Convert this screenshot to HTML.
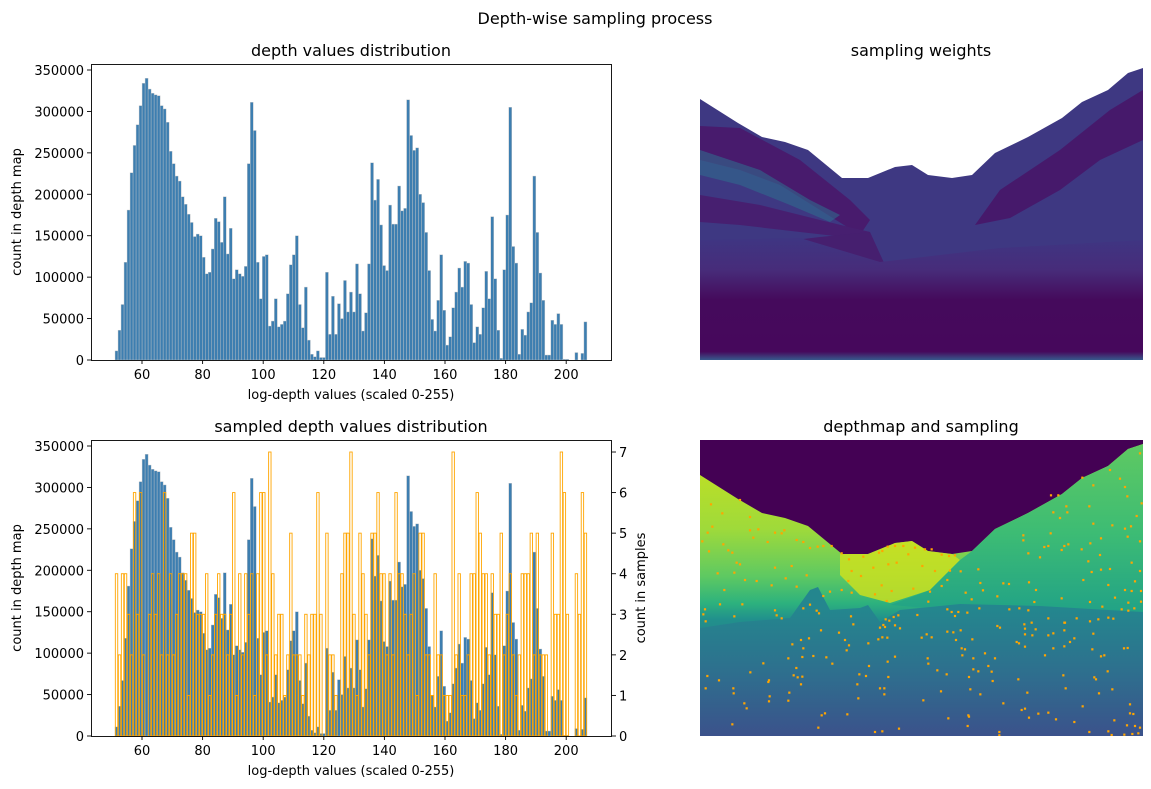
<!DOCTYPE html>
<html><head><meta charset="utf-8">
<style>
body{margin:0;background:#fff;}
svg{display:block;font-family:"DejaVu Sans","Liberation Sans",sans-serif;}
</style></head>
<body>
<svg id="fig" width="1151" height="789" viewBox="0 0 1151 789" xmlns="http://www.w3.org/2000/svg">
<defs>
<linearGradient id="gTerrain" gradientUnits="userSpaceOnUse" x1="0" y1="470" x2="0" y2="736">
<stop offset="0" stop-color="#bddf26"/><stop offset="0.22" stop-color="#9fda3a"/><stop offset="0.4" stop-color="#5ec962"/><stop offset="0.5" stop-color="#2db27d"/><stop offset="0.56" stop-color="#21918c"/><stop offset="0.75" stop-color="#2c728e"/><stop offset="1" stop-color="#3b528b"/>
</linearGradient>
<linearGradient id="gRight" gradientUnits="userSpaceOnUse" x1="0" y1="445" x2="0" y2="620">
<stop offset="0" stop-color="#5ec962"/><stop offset="0.5" stop-color="#3dbc74"/><stop offset="1" stop-color="#1fa088"/>
</linearGradient>
<linearGradient id="gLow" gradientUnits="userSpaceOnUse" x1="0" y1="610" x2="0" y2="736">
<stop offset="0" stop-color="#24868e"/><stop offset="0.5" stop-color="#2e6f8e"/><stop offset="1" stop-color="#3b528b"/>
</linearGradient>
<linearGradient id="gGround" gradientUnits="userSpaceOnUse" x1="0" y1="240" x2="0" y2="360">
<stop offset="0" stop-color="#3f3582"/><stop offset="0.25" stop-color="#472c7a"/><stop offset="0.5" stop-color="#450a5c"/><stop offset="0.93" stop-color="#46085c"/><stop offset="1" stop-color="#38598c"/>
</linearGradient>
<clipPath id="clipTop"><rect x="700" y="64" width="443" height="296"/></clipPath>
<clipPath id="clipBot"><rect x="700" y="440" width="443" height="296"/></clipPath>
</defs>
<text x="595" y="24" font-size="16" text-anchor="middle">Depth-wise sampling process</text>
<g id="topHist"></g>
<g id="botHist"></g>

<g>
<text x="921" y="56" font-size="16" text-anchor="middle">sampling weights</text>
<g clip-path="url(#clipTop)">
<polygon id="wTerrain" fill="#3e3882"/>
<polygon fill="#481b6d" points="700,126 740,128 800,160 850,200 870,220 860,235 820,210 780,185 740,170 700,160"/>
<polygon fill="#306b8e" opacity="0.6" points="700,150 760,170 810,200 840,215 830,222 790,205 740,185 700,175"/>
<polygon fill="#471f70" points="700,195 760,205 820,220 870,232 870,240 800,232 740,225 700,222"/>
<polygon fill="#46196b" points="1000,190 1060,150 1110,110 1143,90 1143,140 1100,160 1060,190 1010,218 975,225"/>
<polygon fill="#461f6f" points="705,280 720,260 770,243 820,237 870,232 885,265 880,265 800,270 730,290 720,300"/>
<polygon fill="url(#gGround)" points="700,240 800,238 880,262 1000,248 1143,240 1143,360 700,360"/>
</g>
</g>

<g>
<text x="921" y="432" font-size="16" text-anchor="middle">depthmap and sampling</text>
<g clip-path="url(#clipBot)">
<rect x="700" y="440" width="443" height="296" fill="#440154"/>
<polygon id="dTerrain" fill="url(#gTerrain)"/>
<polygon fill="#d2e21b" opacity="0.8" points="840,554 868,554 895,543 912,541 928,551 952,554 960,560 930,590 890,603 860,595 840,575"/>
<polygon fill="url(#gRight)" points="960,560 972,551 995,529 1028,513 1062,494 1082,478 1108,466 1128,449 1143,444 1143,612 1060,616 975,612 890,605 930,590"/>
<polygon fill="url(#gLow)" points="700,628 740,622 790,618 810,590 818,587 830,610 860,608 868,605 880,622 900,610 960,604 1040,606 1143,612 1143,736 700,736"/>
<g id="dots"></g>
</g>
</g>
</svg>
<script>
// ---- histogram data ----
const binLo = 51.1;
const binW = 0.992;
const depthCounts = [11,36,67,118,181,226,259,284,307,334,340,327,322,320,319,307,303,287,252,237,222,216,197,188,176,166,149,152,150,124,104,106,134,171,167,142,197,128,159,98,109,104,101,113,237,311,277,118,74,125,127,41,47,74,40,
43,47,80,115,127,150,67,39,88,24,7,4,11,3,3,106,31,77,31,68,50,96,58,82,58,116,80,35,57,116,238,193,218,163,114,108,187,164,164,210,180,183,314,271,253,256,200,190,154,108,49,35,72,127,60,18,28,
63,82,111,88,119,117,67,21,40,31,63,107,74,173,98,36,2,109,175,305,137,117,7,37,30,58,69,222,154,105,72,6,6,48,43,56,43,1,1,0,0,9,0,8,46];
const sampleCounts = [4,2,4,4,3,2,6,3,6,2,0,3,4,3,4,2,6,2,4,2,3,4,4,4,1,5,5,3,3,3,4,1,2,3,4,3,3,2,3,6,1,4,2,4,3,4,1,4,6,6,2,7,
4,2,3,3,1,2,5,2,2,
2,1,3,2,3,3,6,3,0,5,2,2,1,0,4,5,5,7,3,1,5,4,3,2,5,5,6,4,4,2,4,2,6,4,4,3,2,3,4,1,5,5,2,2,1,4,
2,2,1,1,1,7,2,4,1,1,2,4,4,6,5,4,4,2,4,3,3,5,2,3,4,2,1,2,4,4,4,5,2,5,2,2,2,0,5,3,3,7,6,3,0,0,4,3,6,5];
const xTicks = [60,80,100,120,140,160,180,200];
const yTicks = [0,50000,100000,150000,200000,250000,300000,350000];
const y2Ticks = [0,1,2,3,4,5,6,7];

const NS = "http://www.w3.org/2000/svg";
function mk(tag, attrs, parent){const e=document.createElementNS(NS,tag);for(const k in attrs)e.setAttribute(k,attrs[k]);parent.appendChild(e);return e;}
const sx = v => 142 + (v-60)*3.03;
function drawHist(g, top, title, withSamples){
  const bottom = top+296;
  const sy = v => bottom - v*1000*(290/350000);
  const sy2 = v => bottom - v*40.57;
  const t = mk('text',{x:351,y:top-8,'font-size':16,'text-anchor':'middle'},g);
  t.textContent = title;
  
  
  depthCounts.forEach((c,i)=>{
    const x0=sx(binLo+i*binW), x1=sx(binLo+(i+1)*binW);
    const r = mk('rect',{x:x0,y:sy(c),width:x1-x0,height:bottom-sy(c),fill:'#3d7eb0',stroke:'#c8c8c8','stroke-width':0.4},g);
    
    
  });
  if(withSamples){
    sampleCounts.forEach((c,i)=>{
      if(c===0) return;
      const x0=sx(binLo+i*binW), x1=sx(binLo+(i+1)*binW);
      const r = mk('rect',{x:x0+0.3,y:sy2(c),width:x1-x0-0.6,height:bottom-sy2(c),fill:'none',stroke:'#ffa500','stroke-width':0.9},g);
      
      
    });
  }
  const f = mk('rect',{x:91.5,y:top+0.5,width:520,height:296,fill:'none',stroke:'#000','stroke-width':0.9},g);
  
  
  xTicks.forEach(v=>{
    const x=sx(v);
    mk('line',{x1:x,x2:x,y1:bottom+0.5,y2:bottom+4,stroke:'#000','stroke-width':0.9},g);
    const l=mk('text',{x:x,y:bottom+19,'font-size':13,'text-anchor':'middle'},g);
    l.textContent=v;
    
    
  });
  yTicks.forEach(v=>{
    const y=sy(v/1000);
    mk('line',{x1:87,x2:91.5,y1:y,y2:y,stroke:'#000','stroke-width':0.9},g);
    const l=mk('text',{x:84,y:y+5,'font-size':13,'text-anchor':'end'},g);
    l.textContent=v;
    
    
  });
  if(withSamples){
    y2Ticks.forEach(v=>{
      const y=sy2(v);
      mk('line',{x1:611.5,x2:616,y1:y,y2:y,stroke:'#000','stroke-width':0.9},g);
      const l=mk('text',{x:619,y:y+5,'font-size':13},g);
      l.textContent=v;
      
      
    });
    const yl2=mk('text',{x:0,y:0,'font-size':13,'text-anchor':'middle',transform:`translate(645,${top+148}) rotate(-90)`},g);
    yl2.textContent='count in samples';
    
    
  }
  const xl=mk('text',{x:351,y:bottom+39,'font-size':13,'text-anchor':'middle'},g);
  xl.textContent='log-depth values (scaled 0-255)';
  
  
  const yl=mk('text',{x:0,y:0,'font-size':13,'text-anchor':'middle',transform:`translate(21,${top+148}) rotate(-90)`},g);
  yl.textContent='count in depth map';
  
  
}
drawHist(document.getElementById('topHist'),64,'depth values distribution',false);
drawHist(document.getElementById('botHist'),440,'sampled depth values distribution',true);

// ---- landscape skyline (image coords, top image) ----
const sky = [[700,99],[738,123],[762,137],[785,142],[808,150],[842,178],[868,178],[895,167],[912,165],[928,175],[952,178],[972,175],[995,153],[1028,137],[1062,118],[1082,102],[1108,90],[1128,73],[1143,68]];
function skyPts(dy){return sky.map(p=>p[0]+','+(p[1]+dy)).join(' ')+` 1143,${360+dy} 700,${360+dy}`;}
document.getElementById('wTerrain').setAttribute('points',skyPts(0));
document.getElementById('dTerrain').setAttribute('points',skyPts(376));

// ---- sample points (zoom coords of the reference crop) ----
const pts=[[48,205],[82,232],[135,192],[165,243],[22,316],[52,272],[38,290],[42,346],[100,343],[112,350],[125,380],[135,385],[85,325],[68,412],[118,410],[150,432],[185,435],[165,283],[190,280],[175,305],[218,318],[240,290],[260,292],[268,283],[305,312],[325,318],[345,336],[368,332],[385,330],[410,330],[240,395],[290,390],[272,427],[335,418],[305,452],[230,448],[88,462],[75,505],[142,505],[30,520],[25,535],[32,556],[118,541],[240,523],[245,538],[260,547],[325,517],[345,506],[385,480],[405,467],[365,524],[372,532],[440,462],[470,470],[440,352],[462,370],[505,362],[552,350],[562,345],[578,332],[600,330],[625,330],[660,335],[690,340],[710,340],[740,356],[762,360],[780,358],[470,405],[498,420],[535,395],[580,385],[605,380],[640,355],[682,390],[720,405],[765,404],[797,406],[460,435],[560,448],[590,465],[540,475],[575,495],[655,458],[700,497],[705,467],[740,450],[757,432],[812,470],[830,490],[850,400],[856,441],[864,463],[907,481],[925,442],[942,444],[1002,439],[1023,462],[985,298],[985,313],[1000,352],[1035,364],[1048,333],[1060,330],[1067,292],[1100,342],[1108,330],[1120,325],[1160,340],[1186,322],[1095,246],[1068,178],[1090,178],[1162,125],[1195,148],[1183,211],[1114,211],[1075,229],[1117,229],[1195,263],[1218,307],[1252,268],[1290,278],[1298,302],[1308,271],[1325,240],[1335,52],[1340,202],[1245,102],[1275,128],[1290,153],[1297,181],[1335,316],[1310,380],[1335,405],[1245,399],[1190,408],[1218,401],[1165,432],[1180,376],[1215,357],[1240,447],[1290,462],[1320,436],[1310,465],[1338,497],[1300,500],[1280,520],[1260,485],[1222,512],[1185,498],[1100,487],[1060,547],[1110,560],[1145,547],[1185,556],[1210,550],[1240,545],[1255,548],[1300,524],[1318,517],[1338,465],[1018,498],[1000,523],[973,517],[943,520],[853,517],[817,530],[790,528],[770,528],[757,520],[780,540],[667,537],[596,543],[610,538],[572,550],[583,554],[555,575],[565,567],[570,573],[600,568],[615,577],[475,565],[468,541],[432,590],[378,583],[342,607],[318,612],[292,625],[325,637],[280,667],[322,663],[355,660],[394,664],[412,683],[450,612],[462,628],[455,643],[520,622],[550,610],[562,604],[577,605],[600,662],[578,677],[522,690],[493,715],[513,720],[580,723],[680,605],[695,595],[710,604],[757,587],[775,589],[797,583],[783,612],[832,610],[800,637],[810,640],[802,658],[835,667],[870,652],[880,690],[900,667],[907,570],[915,575],[965,618],[972,622],[990,632],[988,565],[990,578],[1010,560],[1022,580],[990,595],[1012,598],[1060,598],[1075,592],[1050,658],[1075,637],[1108,583],[1108,560],[1138,607],[1125,618],[1108,631],[1195,593],[1192,640],[1218,661],[1228,658],[1287,637],[1298,636],[1238,706],[1198,724],[1203,730],[1212,772],[1252,760],[1305,805],[1305,832],[1315,834],[1296,868],[1320,870],[1335,875],[1330,892],[1312,894],[1288,896],[1250,897],[1240,886],[1258,853],[1183,888],[1163,811],[1138,858],[1083,850],[1112,757],[1105,718],[1030,833],[1060,830],[1002,845],[990,818],[980,822],[997,770],[970,730],[925,802],[893,735],[890,707],[850,706],[835,700],[822,723],[826,760],[856,775],[820,838],[822,842],[818,870],[760,847],[738,766],[755,715],[727,703],[685,793],[698,667],[700,683],[612,878],[562,886],[540,888],[457,835],[390,832],[380,838],[370,875],[490,787],[487,745],[568,757],[568,775],[555,757],[318,745],[304,696],[296,718],[308,724],[322,722],[283,770],[280,794],[222,733],[220,738],[224,781],[222,796],[205,682],[166,709],[148,802],[155,817],[115,757],[116,772],[112,865],[72,733],[37,720],[32,757],[913,888],[913,898]];
const dg=document.getElementById('dots');
pts.forEach(p=>{
  const c=mk('rect',{x:695+p[0]/3-1.1,y:436+p[1]/3-1.1,width:2.2,height:2.2,fill:'#ffa500'},dg);
  
  
});
</script>
</body></html>
